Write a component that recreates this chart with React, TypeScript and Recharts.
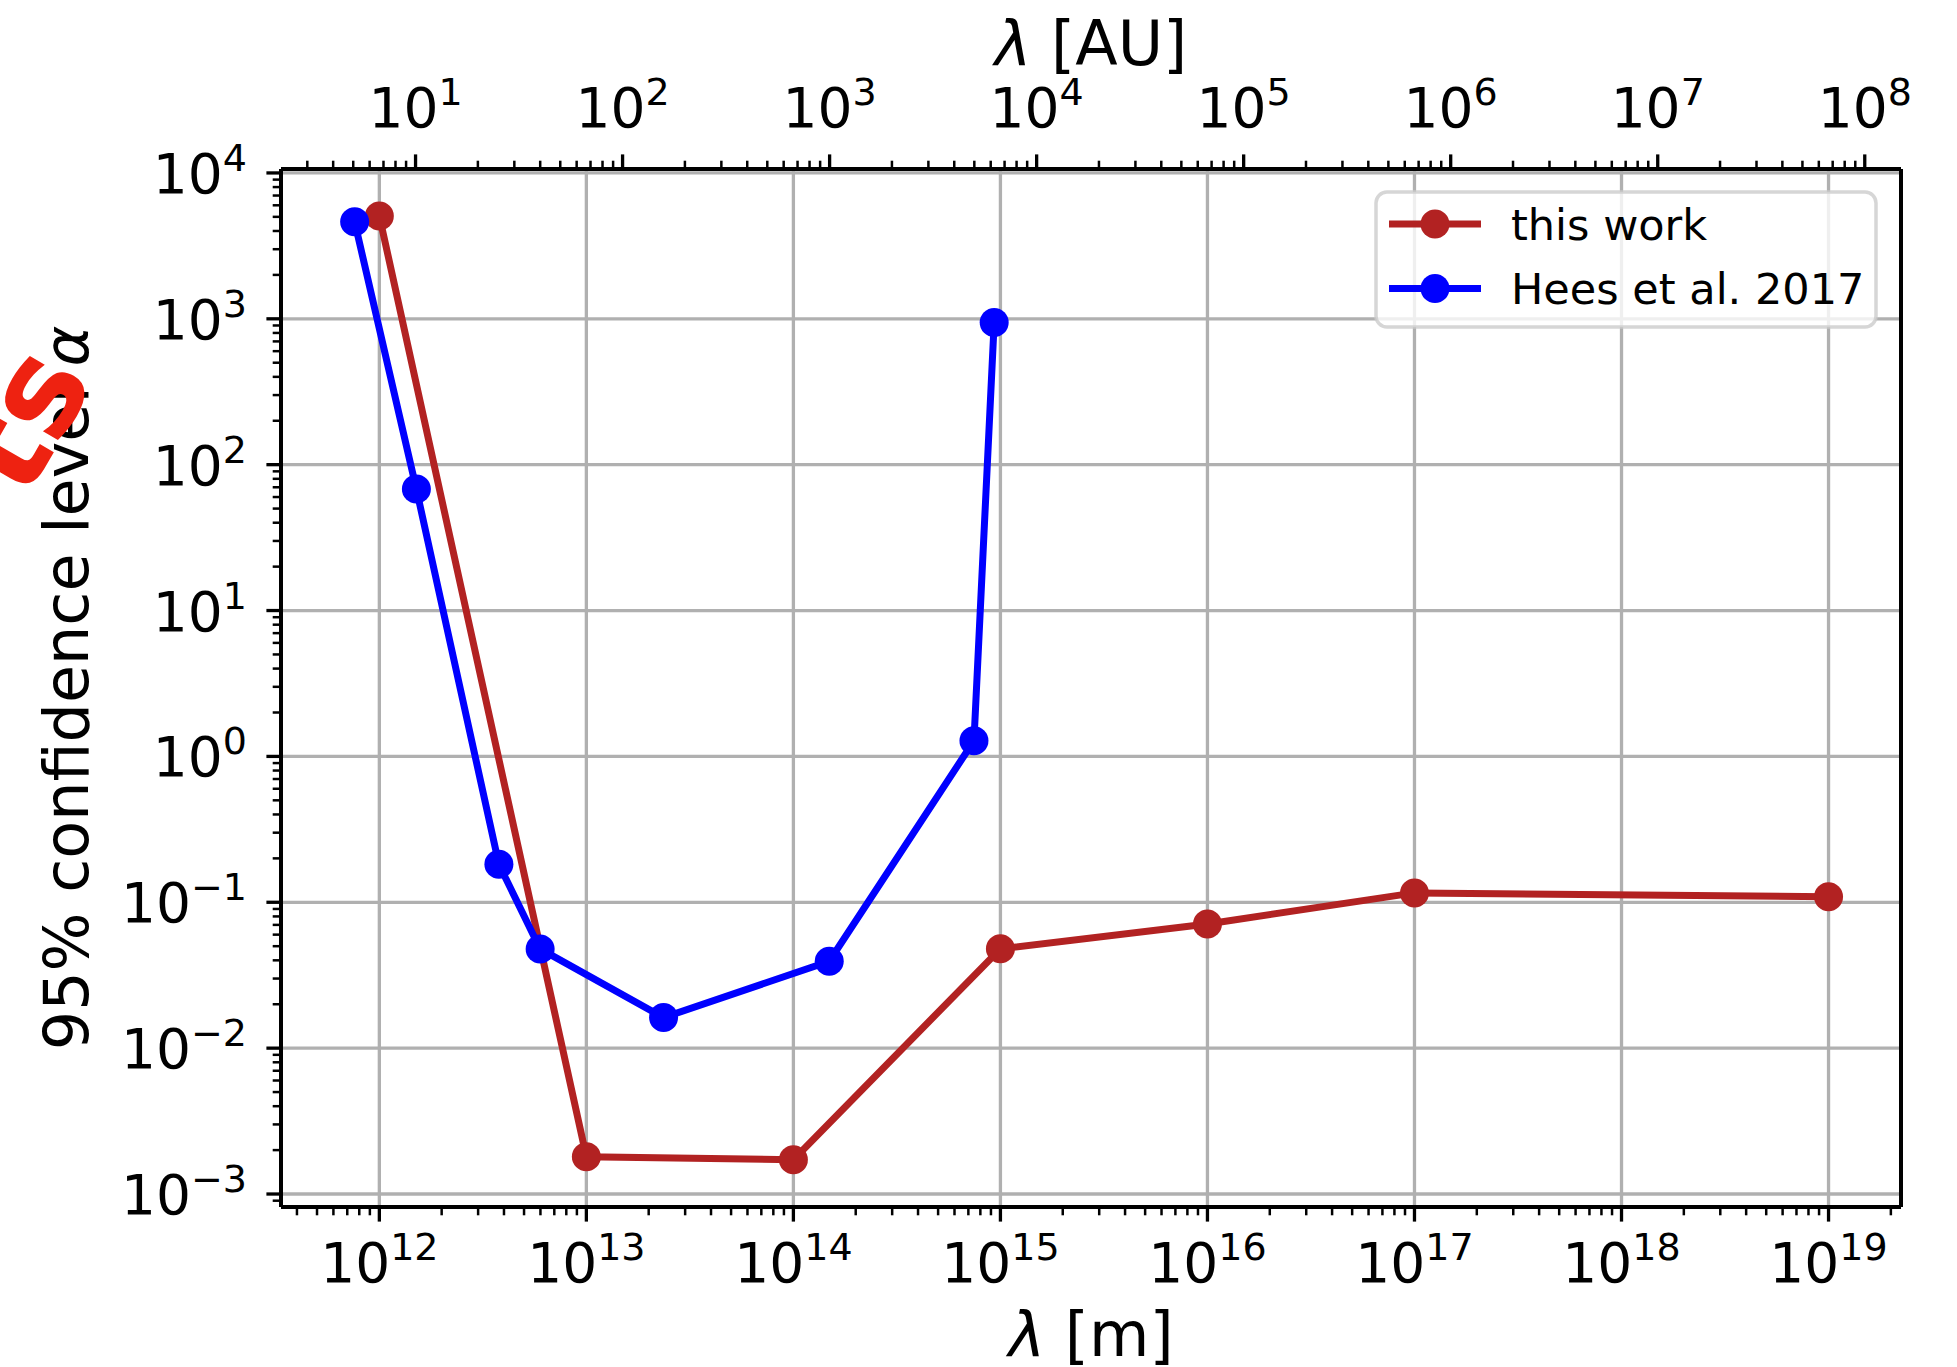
import React from 'react';
import { LineChart, Line, XAxis, YAxis, CartesianGrid, Legend, ReferenceLine, Label } from 'recharts';

// ---------- data ----------
const thisWorkX = [1e12, 1e13, 1e14, 1e15, 1e16, 1e17, 1e19];
const thisWorkY = [5070, 1.8e-3, 1.72e-3, 0.048, 0.071, 0.116, 0.109];

const heesX = [7.6e11, 1.51e12, 3.78e12, 5.98e12, 2.36e13, 1.49e14, 7.45e14, 9.33e14];
const heesY = [4620, 68, 0.182, 0.0479, 0.0162, 0.0394, 1.28, 944];

const xExponents = [12, 13, 14, 15, 16, 17, 18, 19];
const auExponents = [1, 2, 3, 4, 5, 6, 7, 8];
const yExponents = [-3, -2, -1, 0, 1, 2, 3, 4];
const minorMultipliers = [2, 3, 4, 5, 6, 7, 8, 9];
const AU = 1.496e11;

const seriesNames = ['this work', 'Hees et al. 2017'];
const seriesColors = ['#b22222', '#0000ff'];

const thisWork = thisWorkX.map((x, i) => ({ x, y: thisWorkY[i] }));
const hees = heesX.map((x, i) => ({ x, y: heesY[i] }));

const xDomain: [number, number] = [Math.pow(10, 11.525), Math.pow(10, 19.35)];
const yDomain: [number, number] = [Math.pow(10, -3.089), Math.pow(10, 4.027)];

const inRange = (v: number, d: [number, number]) => v >= d[0] * 0.999999 && v <= d[1] * 1.000001;

function buildTicks(exps: number[], unit: number, d: [number, number]) {
  const out: number[] = [];
  const lo = exps[0] - 1;
  const hi = exps[exps.length - 1];
  for (let n = lo; n <= hi; n++) {
    const major = Math.pow(10, n) * unit;
    if (inRange(major, d)) out.push(major);
    minorMultipliers.forEach((m) => {
      const v = m * Math.pow(10, n) * unit;
      if (inRange(v, d)) out.push(v);
    });
  }
  return out.sort((a, b) => a - b);
}

const xTicks = buildTicks(xExponents, 1, xDomain);
const auTicks = buildTicks(auExponents, AU, xDomain);
const yTicks = buildTicks(yExponents, 1, yDomain);
const xMajor = xExponents.map((e) => Math.pow(10, e));
const yMajor = yExponents.map((e) => Math.pow(10, e));

// ---------- styling ----------
const FONT = "'DejaVu Sans', sans-serif";
const MAJ = 14.6;
const MIN = 8.3;
const TICK_FS = 55;
const SUP_FS = 38;
const LABEL_FS = 62;

const expOf = (v: number) => {
  const l = Math.log10(v);
  const r = Math.round(l);
  return Math.abs(l - r) < 1e-6 ? r : null;
};
const expText = (e: number) => (e < 0 ? '\u2212' + Math.abs(e) : String(e));

const TickLabel = ({ x, y, e, anchor }: any) => (
  <text x={x} y={y} textAnchor={anchor} fontFamily={FONT} fontSize={TICK_FS} fill="#000">
    <tspan>10</tspan>
    <tspan dy={-22} fontSize={SUP_FS}>{expText(e)}</tspan>
  </text>
);

const BottomTick = (props: any) => {
  const { x, y, payload } = props;
  const e = expOf(payload.value);
  const major = e !== null;
  return (
    <g>
      <line x1={x} x2={x} y1={y} y2={y + (major ? MAJ : MIN)} stroke="#000" strokeWidth={major ? 3.3 : 2.5} />
      {major && <TickLabel x={x} y={y + 75} e={e} anchor="middle" />}
    </g>
  );
};

const TopTick = (props: any) => {
  const { x, y, payload } = props;
  const e = expOf(payload.value / AU);
  const major = e !== null;
  return (
    <g>
      <line x1={x} x2={x} y1={y} y2={y - (major ? MAJ : MIN)} stroke="#000" strokeWidth={major ? 3.3 : 2.5} />
      {major && <TickLabel x={x} y={y - 42} e={e} anchor="middle" />}
    </g>
  );
};

const LeftTick = (props: any) => {
  const { x, y, payload } = props;
  const e = expOf(payload.value);
  const major = e !== null;
  return (
    <g>
      <line x1={x} x2={x - (major ? MAJ : MIN)} y1={y} y2={y} stroke="#000" strokeWidth={major ? 3.3 : 2.5} />
      {major && <TickLabel x={x - 34} y={y + 20} e={e} anchor="end" />}
    </g>
  );
};

const renderLegend = () => (
  <svg width={504} height={139} style={{ display: 'block' }}>
    <rect x={2} y={2} width={500} height={135} rx={11} ry={11} fill="#ffffff" fillOpacity={0.8} stroke="#cccccc" strokeOpacity={0.8} strokeWidth={3.5} />
    {seriesNames.map((name, i) => {
      const cy = 34 + i * 64.5;
      return (
        <g key={name}>
          <line x1={15} x2={107} y1={cy} y2={cy} stroke={seriesColors[i]} strokeWidth={7} />
          <circle cx={61} cy={cy} r={14.5} fill={seriesColors[i]} />
          <text x={137} y={cy + 15.5} fontFamily={FONT} fontSize={43} fill="#000">{name}</text>
        </g>
      );
    })}
  </svg>
);

export default function App() {
  return (
    <div style={{ position: 'absolute', left: 0, top: 0, width: 1957, height: 1367, background: '#fff' }}>
      <LineChart width={1957} height={1367} margin={{ top: 0, right: 56, bottom: 0, left: 0 }}>
        <CartesianGrid stroke="#b0b0b0" strokeWidth={3.3} horizontalValues={yMajor} verticalValues={xMajor} />
        <XAxis
          dataKey="x"
          type="number"
          scale="log"
          domain={xDomain}
          allowDataOverflow
          ticks={xTicks}
          interval={0}
          tickSize={0}
          tickMargin={0}
          tickLine={false}
          tick={BottomTick}
          height={160}
          axisLine={{ stroke: '#000', strokeWidth: 4 }}
        >
          <Label
            content={(p: any) => {
              const vb = p.viewBox;
              return (
                <text x={vb.x + vb.width / 2} y={vb.y + 149} textAnchor="middle" fontFamily={FONT} fontSize={LABEL_FS} fill="#000">
                  <tspan fontStyle="italic">λ</tspan>
                  <tspan> [m]</tspan>
                </text>
              );
            }}
          />
        </XAxis>
        <XAxis
          xAxisId="top"
          orientation="top"
          dataKey="x"
          type="number"
          scale="log"
          domain={xDomain}
          allowDataOverflow
          ticks={auTicks}
          interval={0}
          tickSize={0}
          tickMargin={0}
          tickLine={false}
          tick={TopTick}
          height={169}
          axisLine={{ stroke: '#000', strokeWidth: 4 }}
        >
          <Label
            content={(p: any) => {
              const vb = p.viewBox;
              return (
                <text x={vb.x + vb.width / 2} y={65} textAnchor="middle" fontFamily={FONT} fontSize={LABEL_FS} fill="#000">
                  <tspan fontStyle="italic">λ</tspan>
                  <tspan> [AU]</tspan>
                </text>
              );
            }}
          />
        </XAxis>
        <YAxis
          type="number"
          scale="log"
          domain={yDomain}
          allowDataOverflow
          ticks={yTicks}
          interval={0}
          tickSize={0}
          tickMargin={0}
          tickLine={false}
          tick={LeftTick}
          width={281}
          axisLine={{ stroke: '#000', strokeWidth: 4 }}
        >
          <Label
            content={(p: any) => {
              const vb = p.viewBox;
              const cy = vb.y + vb.height / 2;
              return (
                <g>
                  <text x={88} y={cy} transform={`rotate(-90, 88, ${cy})`} textAnchor="middle" fontFamily={FONT} fontSize={LABEL_FS} fill="#000">
                    <tspan>95% confidence level </tspan>
                    <tspan fontStyle="italic">α</tspan>
                  </text>
                  <text x={95} y={381} transform="rotate(-60, 95, 381)" textAnchor="end" fontFamily={FONT} fontWeight="bold" fontSize={130} fill="#ee2211">ts</text>
                </g>
              );
            }}
          />
        </YAxis>
        <ReferenceLine x={xDomain[1]} stroke="#000" strokeWidth={4} ifOverflow="extendDomain" />
        <Legend
          content={renderLegend}
          layout="horizontal"
          verticalAlign="middle"
          align="center"
          wrapperStyle={{ left: 1374, top: 190, width: 504, height: 139 }}
        />
        <Line
          data={thisWork}
          dataKey="y"
          name={seriesNames[0]}
          type="linear"
          stroke={seriesColors[0]}
          strokeWidth={7}
          dot={{ r: 14.5, fill: seriesColors[0], stroke: seriesColors[0], strokeWidth: 0 }}
          activeDot={false}
          isAnimationActive={false}
        />
        <Line
          data={hees}
          dataKey="y"
          name={seriesNames[1]}
          type="linear"
          stroke={seriesColors[1]}
          strokeWidth={7}
          dot={{ r: 14.5, fill: seriesColors[1], stroke: seriesColors[1], strokeWidth: 0 }}
          activeDot={false}
          isAnimationActive={false}
        />
      </LineChart>
    </div>
  );
}
